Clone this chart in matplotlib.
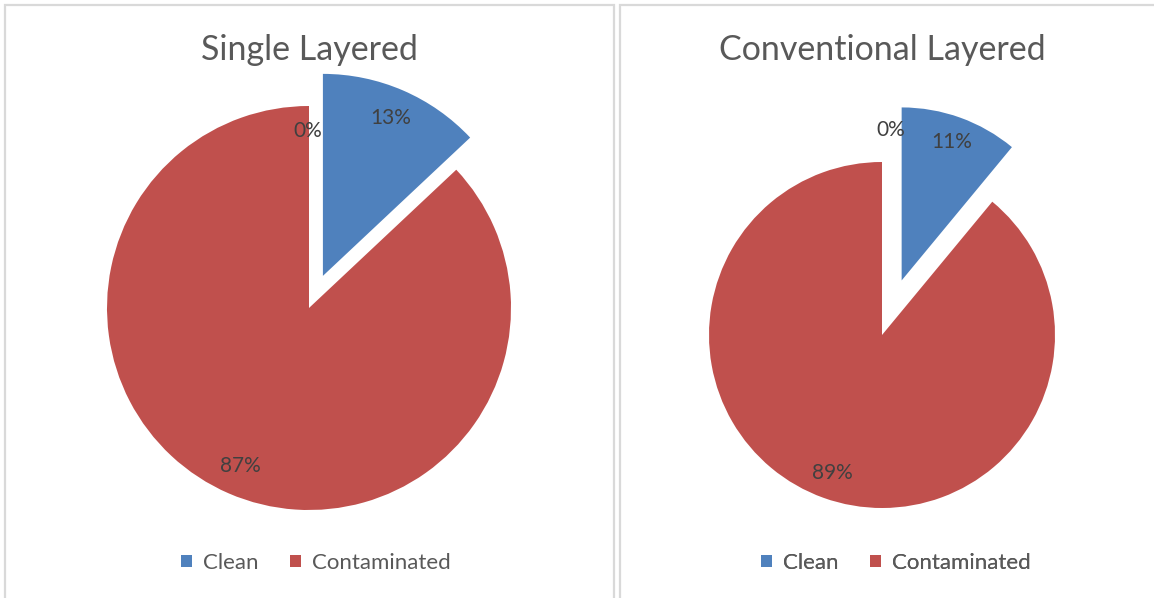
import numpy as np
import matplotlib.pyplot as plt
from matplotlib.patches import Rectangle

plt.rcParams['font.family'] = ['Lato', 'DejaVu Sans']

# datos
categories = ['Clean', 'Contaminated', '']
single_layered = [13, 87, 0]
conventional_layered = [11, 89, 0]
titles = ['Single Layered', 'Conventional Layered']
colors = ['#4F81BD', '#C0504D', '#C0504D']

W, H = 1154, 598
fig = plt.figure(figsize=(W / 100, H / 100), dpi=100)
ax = fig.add_axes([0, 0, 1, 1])

# marcos de los paneles (en pixeles)
border = '#D9D9D9'
ax.add_patch(Rectangle((5, -10), 609, H - 5 + 10, fill=False, ec=border, lw=1.6, zorder=0))
ax.add_patch(Rectangle((620, -10), 600, H - 5 + 10, fill=False, ec=border, lw=1.6, zorder=0))


def draw_pie(vals, cx, cy, r, explode, title, zero_pos, legend_x):
    # explode en matplotlib va en unidades absolutas (pixeles aqui)
    wedges, texts, autotexts = ax.pie(
        vals, colors=colors, startangle=90, counterclock=False,
        explode=[explode, 0, 0], center=(cx, H - cy), radius=r,
        autopct='%1.0f%%', pctdistance=0.85,
        wedgeprops=dict(linewidth=0),
        textprops=dict(color='#404040', fontsize=15))
    # la etiqueta de 0% la coloca Excel fuera del sector
    autotexts[2].set_position((zero_pos[0], H - zero_pos[1]))
    ax.text(cx, H - 50, title, ha='center', va='center', fontsize=24.5, color='#595959')
    leg = ax.legend(wedges[:2], categories[:2], loc='center',
                    bbox_to_anchor=(legend_x / W, 1 - 563 / H), ncol=2,
                    frameon=False, handlelength=0.5, handleheight=0.5,
                    handletextpad=0.5, columnspacing=1.4,
                    prop=dict(size=16))
    for t in leg.get_texts():
        t.set_color('#595959')
    ax.add_artist(leg)


draw_pie(single_layered, 309, 308, 202, 35, titles[0], (308, 131), 316)
draw_pie(conventional_layered, 882, 335, 173, 58, titles[1], (891, 130), 896)

ax.set_xlim(0, W)
ax.set_ylim(0, H)
ax.set_aspect('auto')
ax.axis('off')

plt.savefig('out.png', dpi=100)
